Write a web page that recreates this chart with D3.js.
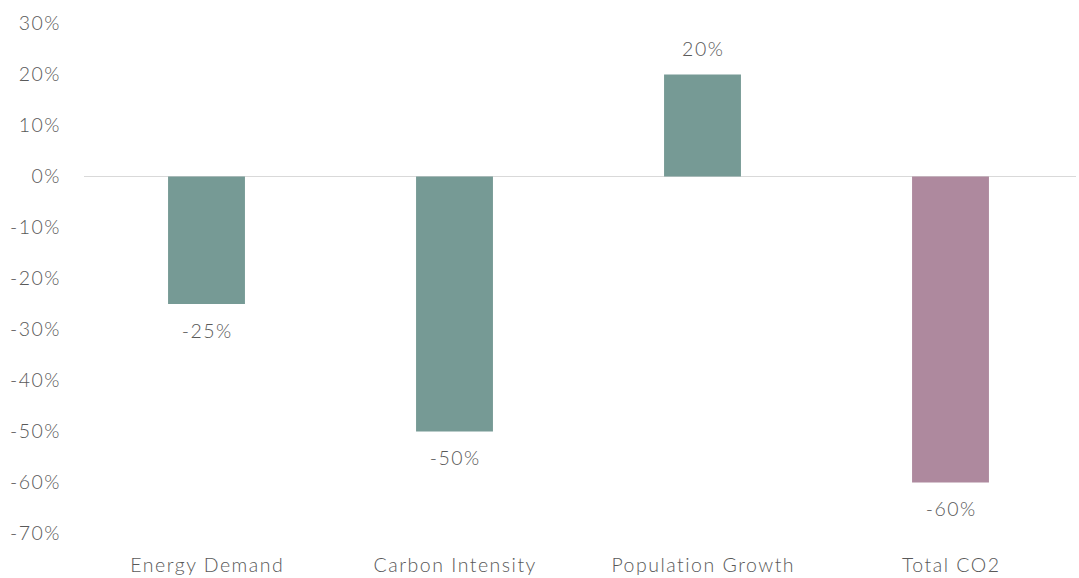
<!DOCTYPE html>
<html>
<head>
<meta charset="utf-8">
<script src="https://cdn.jsdelivr.net/npm/d3@7"></script>
<style>
  body { margin: 0; background: #fff; }
  text { font-family: Lato, "Open Sans", sans-serif; font-weight: 300; fill: #595959; letter-spacing: 1.5px; }
</style>
</head>
<body>
<script>
// chart data
var categories = ["Energy Demand", "Carbon Intensity", "Population Growth", "Total CO2"];
var values = [-25, -50, 20, -60];
var barColors = ["#769a95", "#769a95", "#769a95", "#ae899e"];
var yTicks = [30, 20, 10, 0, -10, -20, -30, -40, -50, -60, -70];

var w = 1079;
var h = 578;

var svg = d3.select("body")
            .append("svg")
            .attr("width", w)
            .attr("height", h);

// scales
var xScale = d3.scaleBand()
               .domain(categories)
               .range([82.5, 1074.5])
               .paddingInner(0.69)
               .paddingOuter(0.345);

var yScale = d3.scaleLinear()
               .domain([-70, 30])
               .range([533.5, 23.5]);

// y axis labels
var yAxis = svg.append("g")
               .attr("transform", "translate(61, 0)")
               .call(d3.axisLeft(yScale)
                       .tickValues(yTicks)
                       .tickSize(0)
                       .tickPadding(0)
                       .tickFormat(function(d) { return d + "%"; }));
yAxis.select(".domain").remove();
yAxis.selectAll("text")
     .style("font-size", "19.5px")
     .attr("fill", null)
     .style("font-family", null);

// zero line
svg.append("line")
   .attr("x1", 84)
   .attr("x2", 1076)
   .attr("y1", yScale(0))
   .attr("y2", yScale(0))
   .attr("stroke", "#d9d9d9")
   .attr("stroke-width", 1.2);

// bars
svg.selectAll(".bar")
   .data(values)
   .enter().append("rect")
   .attr("class", "bar")
   .attr("x", function(d, i) { return xScale(categories[i]); })
   .attr("width", xScale.bandwidth())
   .attr("y", function(d) { return yScale(Math.max(0, d)); })
   .attr("height", function(d) { return Math.abs(yScale(d) - yScale(0)); })
   .attr("fill", function(d, i) { return barColors[i]; });

// value labels
svg.selectAll(".val")
   .data(values)
   .enter().append("text")
   .attr("class", "val")
   .attr("x", function(d, i) { return xScale(categories[i]) + xScale.bandwidth() / 2 + 0.75; })
   .attr("y", function(d) { return d < 0 ? yScale(d) + 27 : yScale(d) - 25; })
   .attr("dy", "0.35em")
   .attr("text-anchor", "middle")
   .style("font-size", "19.5px")
   .text(function(d) { return d + "%"; });

// category labels
var xAxis = svg.append("g")
               .attr("transform", "translate(0.75, 565)")
               .call(d3.axisBottom(xScale).tickSize(0).tickPadding(0));
xAxis.select(".domain").remove();
xAxis.selectAll("text")
     .attr("dy", "0.35em")
     .attr("fill", null)
     .style("font-family", null)
     .style("font-size", "19.5px");
</script>
</body>
</html>
